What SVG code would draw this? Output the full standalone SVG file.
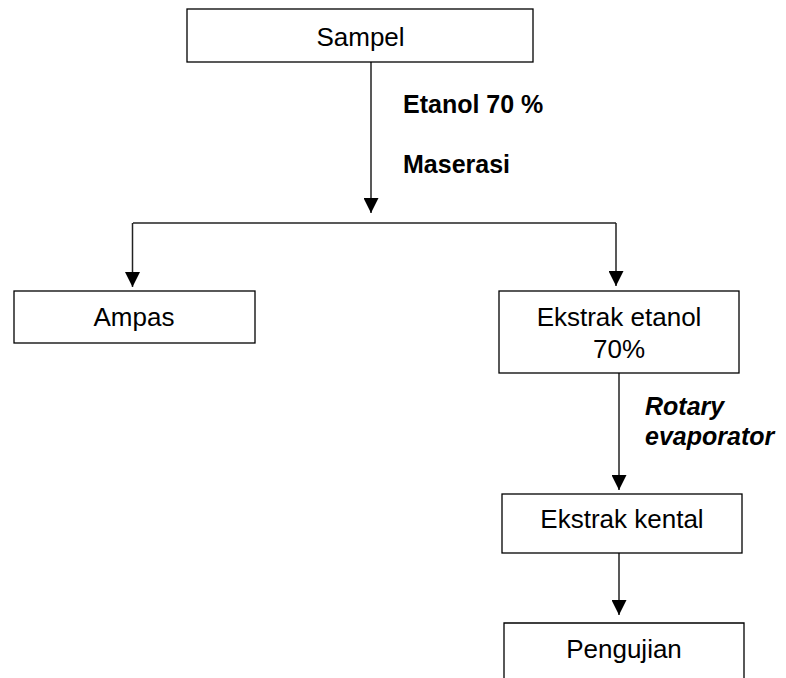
<svg xmlns="http://www.w3.org/2000/svg" width="786" height="678" viewBox="0 0 786 678">
  <defs>
    <marker id="arr" markerUnits="userSpaceOnUse" markerWidth="15" markerHeight="15" refX="15" refY="7.5" orient="auto">
      <path d="M0,0 L15,7.5 L0,15 z" fill="#000"/>
    </marker>
    <style>
      .box { fill: #fff; stroke: #000; stroke-width: 1.3; }
      .lbl { font-family: "Liberation Sans", Arial, sans-serif; font-size: 26px; fill: #000; text-anchor: middle; }
      .note { font-family: "Liberation Sans", Arial, sans-serif; font-size: 25px; font-weight: bold; fill: #000; }
      .it { font-style: italic; }
      .con { stroke: #222; stroke-width: 1.5; fill: none; }
    </style>
  </defs>
  <rect width="786" height="678" fill="#fff"/>

  <g id="connectors">
    <line class="con" x1="371" y1="62" x2="371" y2="213" marker-end="url(#arr)"/>
    <line class="con" x1="133" y1="223" x2="616" y2="223"/>
    <line class="con" x1="132.5" y1="223" x2="132.5" y2="287" marker-end="url(#arr)"/>
    <line class="con" x1="616" y1="223" x2="616" y2="286" marker-end="url(#arr)"/>
    <line class="con" x1="619" y1="373" x2="619" y2="490" marker-end="url(#arr)"/>
    <line class="con" x1="619" y1="553" x2="619" y2="615" marker-end="url(#arr)"/>
    <text class="note" x="403" y="113">Etanol 70 %</text>
    <text class="note" x="403" y="173">Maserasi</text>
    <text class="note it" x="645" y="415">Rotary</text>
    <text class="note it" x="645" y="445">evaporator</text>
  </g>

  <g id="sampel">
    <rect class="box" x="187" y="9" width="346" height="53"/>
    <text class="lbl" x="360.5" y="46">Sampel</text>
  </g>
  <g id="ampas">
    <rect class="box" x="14" y="291" width="241" height="52"/>
    <text class="lbl" x="134" y="326">Ampas</text>
  </g>
  <g id="ekstrak-etanol">
    <rect class="box" x="499" y="291" width="240" height="82"/>
    <text class="lbl" x="619" y="326">Ekstrak etanol</text>
    <text class="lbl" x="619" y="358">70%</text>
  </g>
  <g id="ekstrak-kental">
    <rect class="box" x="502" y="494" width="240" height="59"/>
    <text class="lbl" x="622" y="528">Ekstrak kental</text>
  </g>
  <g id="pengujian">
    <path class="box" d="M504,690 L504,623 L744,623 L744,690"/>
    <text class="lbl" x="624" y="658">Pengujian</text>
  </g>
</svg>
